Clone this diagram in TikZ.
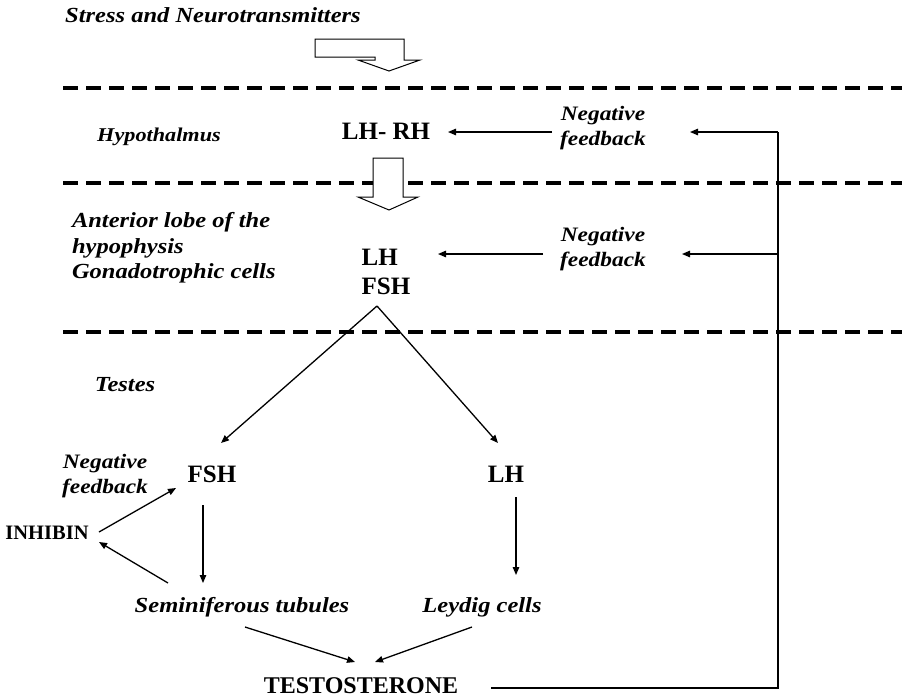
\documentclass[tikz,border=0pt]{standalone}
\usepackage{fontspec}
\setmainfont{Liberation Serif}
\newfontfamily\itfont[FakeStretch=1.14]{Liberation Serif}
\usetikzlibrary{arrows.meta}
\begin{document}
\begin{tikzpicture}[x=1pt,y=-1pt,
  txt/.style={inner sep=0pt, outer sep=0pt},
  bigb/.style={txt, font=\fontsize{25}{29}\selectfont\bfseries},
  itl/.style={txt, font=\itfont\fontsize{21.5}{25.5}\selectfont\bfseries\itshape},
  itsmall/.style={txt, font=\itfont\fontsize{19.5}{25}\selectfont\bfseries\itshape},
  nfb/.style={txt, align=center, font=\itfont\fontsize{20.5}{25}\selectfont\bfseries\itshape},
  arr/.style={-{Triangle[length=8pt,width=6.5pt]}, line width=1.3pt},
  trunk/.style={line width=2pt},
  divider/.style={line width=4pt, dash pattern=on 15pt off 8pt},
  blockarrow/.style={draw, fill=white, line width=1pt, line join=miter}]
\useasboundingbox (0,0) rectangle (902,699);

% level dividers
\draw[divider] (63,88) -- (902,88);
\draw[divider] (63,183) -- (902,183);
\draw[divider] (63,332) -- (902,332);

% input from stress
\node[itl] (stress) at (213,15) {Stress and Neurotransmitters};
\draw[blockarrow] (315,39) -- (404,39) -- (404,60) -- (420,60) -- (389,71)
  -- (358,60) -- (375,60) -- (375,57) -- (315,57) -- cycle;

% hypothalamus level
\node[itsmall] (hypo) at (159,137) {Hypothalmus};
\node[bigb] (lhrh) at (386,131) {LH- RH};
\node[nfb] (nf1) at (603,128) {Negative\\feedback};
\draw[blockarrow] (373,158) -- (403,158) -- (403,197) -- (418,197) -- (389,210)
  -- (358,197) -- (373,197) -- cycle;

% pituitary level
\node[itl, align=left, anchor=west] (ant) at (72,248)
  {Anterior lobe of the\\hypophysis\\Gonadotrophic cells};
\node[bigb, align=left] (lhfsh) at (386,272) {LH\\FSH};
\node[nfb] (nf2) at (603,249) {Negative\\feedback};

% testes level
\node[itl] (testes) at (125,385) {Testes};
\node[bigb] (fsh) at (212,474) {FSH};
\node[bigb] (lh) at (506,474) {LH};
\node[nfb] (nf3) at (105,476) {Negative\\feedback};
\node[txt, font=\fontsize{20.5}{22}\selectfont\bfseries] (inhibin) at (47,533) {INHIBIN};
\node[itl] (semi) at (242,607) {Seminiferous tubules};
\node[itl] (leydig) at (482,607) {Leydig cells};
\node[txt, font=\fontsize{24}{28}\selectfont\bfseries] (testo) at (361,686) {TESTOSTERONE};

% feedback trunk
\coordinate (fbtop) at (778,132);
\coordinate (fbmid) at (778,254);
\coordinate (fbbot) at (778,688);
\draw[trunk, shorten <=130pt] (testo |- fbbot) -- (fbbot) -- (fbtop);
\draw[arr, shorten >=87pt] (fbtop) -- (nf1 |- fbtop);
\draw[arr, shorten <=51pt, shorten >=62pt] (nf1 |- fbtop) -- (lhrh |- fbtop);
\draw[arr, shorten >=79pt] (fbmid) -- (nf2 |- fbmid);
\draw[arr, shorten <=60pt, shorten >=52pt] (nf2 |- fbmid) -- (lhfsh |- fbmid);

% branching to the testes
\coordinate (apex) at ([shift={(-9,34)}]lhfsh.center);
\draw[arr] (apex) -- ([shift={(9,-31)}]fsh.center);
\draw[arr] (apex) -- ([shift={(-8,-31)}]lh.center);

% FSH branch and inhibin loop
\draw[arr] ([shift={(-9,31)}]fsh.center) -- ([shift={(-39,-24)}]semi.center);
\draw[arr] ([shift={(52,-1)}]inhibin.center) -- ([shift={(-36,14)}]fsh.center);
\draw[arr] ([shift={(-74,-24)}]semi.center) -- ([shift={(52,9)}]inhibin.center);

% LH branch
\draw[arr] ([shift={(10,23)}]lh.center) -- ([shift={(34,-32)}]leydig.center);

% both routes to testosterone
\draw[arr] ([shift={(3,20)}]semi.center) -- ([shift={(-6,-24)}]testo.center);
\draw[arr] ([shift={(-10,20)}]leydig.center) -- ([shift={(14,-24)}]testo.center);
\end{tikzpicture}
\end{document}
